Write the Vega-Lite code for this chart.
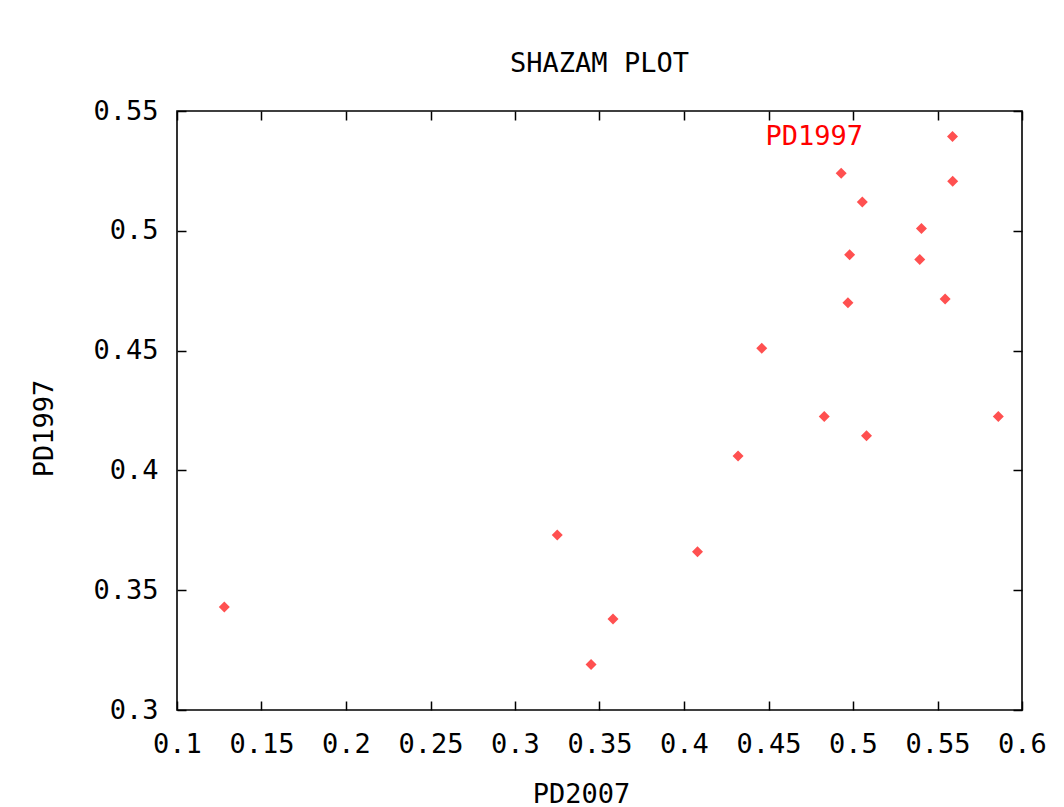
{
  "$schema": "https://vega.github.io/schema/vega-lite/v6.json",
  "autosize": "none",
  "width": 845,
  "height": 599,
  "padding": {"left": 177, "top": 111, "right": 42, "bottom": 97},
  "background": "#ffffff",
  "title": {
    "text": "SHAZAM PLOT",
    "font": "DejaVu Sans Mono",
    "fontSize": 27,
    "fontWeight": "normal",
    "color": "#000000",
    "anchor": "middle",
    "offset": 19
  },
  "data": {
    "values": [
      {"PD2007": 0.128, "PD1997": 0.343, "series": "PD1997"},
      {"PD2007": 0.325, "PD1997": 0.373, "series": "PD1997"},
      {"PD2007": 0.345, "PD1997": 0.319, "series": "PD1997"},
      {"PD2007": 0.358, "PD1997": 0.338, "series": "PD1997"},
      {"PD2007": 0.408, "PD1997": 0.366, "series": "PD1997"},
      {"PD2007": 0.432, "PD1997": 0.406, "series": "PD1997"},
      {"PD2007": 0.446, "PD1997": 0.451, "series": "PD1997"},
      {"PD2007": 0.483, "PD1997": 0.4225, "series": "PD1997"},
      {"PD2007": 0.493, "PD1997": 0.524, "series": "PD1997"},
      {"PD2007": 0.5055, "PD1997": 0.512, "series": "PD1997"},
      {"PD2007": 0.498, "PD1997": 0.490, "series": "PD1997"},
      {"PD2007": 0.497, "PD1997": 0.470, "series": "PD1997"},
      {"PD2007": 0.508, "PD1997": 0.4145, "series": "PD1997"},
      {"PD2007": 0.5405, "PD1997": 0.501, "series": "PD1997"},
      {"PD2007": 0.5395, "PD1997": 0.488, "series": "PD1997"},
      {"PD2007": 0.5545, "PD1997": 0.4715, "series": "PD1997"},
      {"PD2007": 0.559, "PD1997": 0.5207, "series": "PD1997"},
      {"PD2007": 0.586, "PD1997": 0.4225, "series": "PD1997"}
    ]
  },
  "resolve": {"axis": {"x": "independent", "y": "independent"}},
  "layer": [
    {
      "mark": {"type": "point", "shape": "diamond", "filled": true, "size": 121, "opacity": 1},
      "encoding": {
        "x": {
          "field": "PD2007", "type": "quantitative",
          "scale": {"domain": [0.1, 0.6], "nice": false, "zero": false},
          "axis": {
            "values": [0.1, 0.15, 0.2, 0.25, 0.3, 0.35, 0.4, 0.45, 0.5, 0.55, 0.6],
            "format": ".2~f",
            "title": "PD2007",
            "titleX": 404, "titleY": 92, "titleAlign": "center", "titleBaseline": "alphabetic",
            "labelPadding": 30, "labelBaseline": "top"
          }
        },
        "y": {
          "field": "PD1997", "type": "quantitative",
          "scale": {"domain": [0.3, 0.55], "nice": false, "zero": false},
          "axis": {
            "values": [0.3, 0.35, 0.4, 0.45, 0.5, 0.55],
            "format": ".2~f",
            "title": "PD1997",
            "titleX": -133, "titleY": 317, "titleAlign": "center", "titleBaseline": "middle", "titleAngle": -90,
            "labelPadding": 28
          }
        },
        "color": {
          "field": "series", "type": "nominal",
          "scale": {"range": ["#ff5050"]},
          "legend": {
            "orient": "none", "legendX": 762, "legendY": 12,
            "title": null, "padding": 0,
            "symbolType": "diamond", "symbolSize": 121, "symbolStrokeWidth": 0,
            "labelAlign": "right", "labelOffset": -103,
            "labelColor": "#ff0000", "labelFont": "DejaVu Sans Mono", "labelFontSize": 27,
            "labelLimit": 0
          }
        }
      }
    },
    {
      "mark": {"type": "point", "opacity": 0},
      "encoding": {
        "x": {
          "field": "PD2007", "type": "quantitative",
          "axis": {
            "orient": "top", "labels": false, "title": null,
            "values": [0.1, 0.15, 0.2, 0.25, 0.3, 0.35, 0.4, 0.45, 0.5, 0.55, 0.6]
          }
        },
        "y": {
          "field": "PD1997", "type": "quantitative",
          "axis": {
            "orient": "right", "labels": false, "title": null,
            "values": [0.3, 0.35, 0.4, 0.45, 0.5, 0.55]
          }
        }
      }
    }
  ],
  "config": {
    "view": {"stroke": "#000000", "strokeWidth": 1.6},
    "axis": {
      "domain": false,
      "grid": false,
      "ticks": true,
      "tickSize": -9,
      "tickColor": "#000000",
      "tickWidth": 1.5,
      "labelFont": "DejaVu Sans Mono",
      "labelFontSize": 27,
      "labelColor": "#000000",
      "labelFontWeight": "normal",
      "labelOverlap": false,
      "labelFlush": false,
      "titleFont": "DejaVu Sans Mono",
      "titleFontSize": 27,
      "titleFontWeight": "normal",
      "titleColor": "#000000"
    }
  }
}
